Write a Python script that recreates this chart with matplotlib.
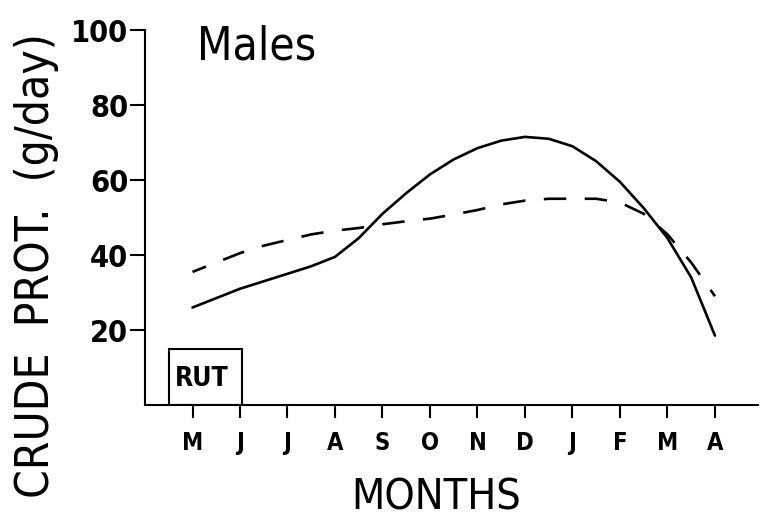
import matplotlib
matplotlib.use('Agg')
import matplotlib.pyplot as plt
import numpy as np

# Half-month steps from May to April
months = ['M', 'J', 'J', 'A', 'S', 'O', 'N', 'D', 'J', 'F', 'M', 'A']
x_half = np.arange(23) / 2.0

# Crude protein intake (g/day), males
solid_vals = [26, 28.5, 31, 33, 35, 37, 39.5, 44.5, 51, 56.5, 61.5, 65.5,
              68.5, 70.5, 71.5, 71, 69, 65, 59.5, 52.5, 44.5, 34, 18.5]
dashed_vals = [35.5, 38, 40.5, 42.5, 44, 45.5, 46.5, 47.2, 48.2, 49, 49.7, 50.8,
               52, 53.5, 54.5, 55, 55, 55, 54, 51, 45.5, 38, 29]

# rut period box (months index, height)
rut_start, rut_end, rut_top = -0.5, 1.05, 15

plt.rcParams['font.family'] = ['DejaVu Sans']
plt.rcParams['font.stretch'] = 'condensed'

fig = plt.figure(figsize=(7.6, 5.24), dpi=100)
ax = fig.add_axes([0.1908, 0.2271, 0.8062, 0.7156])

ax.plot(x_half, solid_vals, color='black', lw=1.9, solid_capstyle='round')
ax.plot(x_half, dashed_vals, color='black', lw=1.9, linestyle=(3, (8.5, 7)))

ax.add_patch(plt.Rectangle((rut_start, 0), rut_end - rut_start, rut_top,
                           fill=False, edgecolor='black', lw=1.5))
ax.text((rut_start + rut_end) / 2 - 0.08, rut_top / 2 - 0.5, 'RUT', ha='center', va='center',
        fontsize=19, fontweight='bold')

ax.text(0.1, 95.5, 'Males', ha='left', va='center', fontsize=33)

ax.set_xlim(-1, 11.9)
ax.set_ylim(0, 100)
ax.set_xticks(range(12))
ax.set_xticklabels(months, fontsize=17, fontweight='bold')
ax.set_yticks([20, 40, 60, 80, 100])
ax.set_yticklabels(['20', '40', '60', '80', '100'], fontsize=22, fontweight='semibold')

ax.spines['top'].set_visible(False)
ax.spines['right'].set_visible(False)
for s in ('left', 'bottom'):
    ax.spines[s].set_linewidth(1.5)
ax.tick_params(axis='y', length=11, width=1.5, pad=1)
ax.tick_params(axis='x', length=9, width=1.5, pad=10)

ax.set_xlabel('MONTHS', fontsize=31)
ax.xaxis.set_label_coords(0.475, -0.19)
ax.set_ylabel('CRUDE  PROT.  (g/day)', fontsize=33)
ax.yaxis.set_label_coords(-0.14, 0.373)

fig.savefig('out.png', dpi=100)
